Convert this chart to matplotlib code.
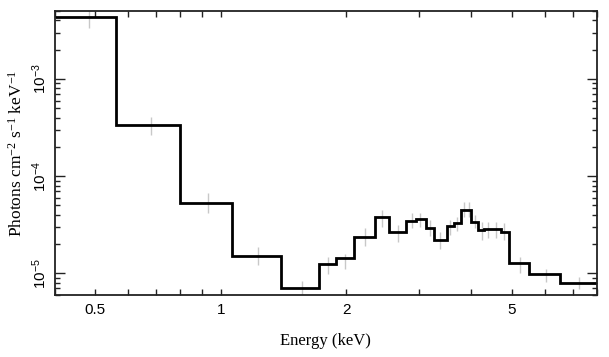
import numpy as np
import matplotlib
matplotlib.use("Agg")
import matplotlib.pyplot as plt
from matplotlib.ticker import FixedLocator, FixedFormatter, LogLocator, NullFormatter

# model: step edges (keV) and levels (photons cm^-2 s^-1 keV^-1)
edges = [0.40, 0.561, 0.797, 1.067, 1.392, 1.725, 1.892, 2.084, 2.344, 2.534,
         2.790, 2.948, 3.105, 3.259, 3.495, 3.640, 3.777, 3.993, 4.142, 4.298,
         4.697, 4.928, 5.507, 6.526, 8.0]
levels = [4.39e-3, 3.33e-4, 5.31e-5, 1.50e-5, 7.0e-6, 1.26e-5, 1.44e-5, 2.39e-5,
          3.80e-5, 2.65e-5, 3.46e-5, 3.59e-5, 2.96e-5, 2.21e-5, 3.10e-5, 3.30e-5,
          4.52e-5, 3.35e-5, 2.80e-5, 2.86e-5, 2.69e-5, 1.29e-5, 9.85e-6, 8.03e-6]

# data: error bar positions and low/high ends
data_x = [0.482, 0.681, 0.930, 1.230, 1.564, 1.813, 1.989, 2.222, 2.446, 2.665,
          2.879, 3.015, 3.186, 3.368, 3.559, 3.694, 3.832, 3.940, 4.089, 4.244,
          4.395, 4.585, 4.782, 5.219, 6.028, 7.24]
data_lo = [3.38e-3, 2.67e-4, 4.21e-5, 1.21e-5, 5.8e-6, 9.8e-6, 1.10e-5, 1.90e-5,
           3.03e-5, 2.13e-5, 2.96e-5, 3.03e-5, 2.40e-5, 1.77e-5, 2.51e-5, 2.70e-5,
           3.84e-5, 3.84e-5, 2.96e-5, 2.23e-5, 2.34e-5, 2.34e-5, 2.23e-5, 1.02e-5,
           8.09e-6, 6.9e-6]
data_hi = [5.6e-3, 4.06e-4, 6.73e-5, 1.85e-5, 8.34e-6, 1.49e-5, 1.57e-5, 2.96e-5,
           4.53e-5, 3.18e-5, 4.22e-5, 4.22e-5, 3.58e-5, 2.64e-5, 3.58e-5, 3.84e-5,
           5.47e-5, 5.47e-5, 4.02e-5, 3.41e-5, 3.41e-5, 3.41e-5, 3.33e-5, 1.49e-5,
           1.10e-5, 9.1e-6]

xticks = [0.5, 1, 2, 5]
xticklabels = ["0.5", "1", "2", "5"]
yticks = [1e-5, 1e-4, 1e-3]
yticklabels = [r"$\mathregular{10^{-5}}$", r"$\mathregular{10^{-4}}$", r"$\mathregular{10^{-3}}$"]

sans = ["Liberation Sans", "DejaVu Sans"]
serif = ["Liberation Serif", "DejaVu Serif"]

fig = plt.figure(figsize=(6.09, 3.57), dpi=100)
ax = fig.add_axes([0.0903, 0.1737, 0.8897, 0.7953])

ax.vlines(data_x, data_lo, data_hi, color="#c8c8c8", lw=1.0, zorder=1)
ax.stairs(levels, edges, baseline=None, color="black", lw=2.0, zorder=2)

ax.set_xscale("log")
ax.set_yscale("log")
ax.set_xlim(0.4, 8.0)
ax.set_ylim(6e-6, 5e-3)

ax.xaxis.set_major_locator(FixedLocator(xticks))
ax.xaxis.set_major_formatter(FixedFormatter(xticklabels))
ax.xaxis.set_minor_locator(LogLocator(base=10, subs=np.arange(2, 10) / 1.0, numticks=20))
ax.xaxis.set_minor_formatter(NullFormatter())
ax.yaxis.set_major_locator(FixedLocator(yticks))
ax.yaxis.set_major_formatter(FixedFormatter(yticklabels))
ax.yaxis.set_minor_locator(LogLocator(base=10, subs=np.arange(2, 10) / 1.0, numticks=20))
ax.yaxis.set_minor_formatter(NullFormatter())

ax.tick_params(which="both", direction="in", top=True, right=True, width=1.0, color="#222222")
ax.tick_params(axis="x", which="major", length=4, pad=6)
ax.tick_params(axis="x", which="minor", length=4)
ax.tick_params(axis="y", which="major", length=7, pad=4)
ax.tick_params(axis="y", which="minor", length=3.5)
ax.tick_params(axis="y", labelrotation=90)
for t in ax.xaxis.get_major_ticks():
    if t.get_loc() == 1:
        t.tick1line.set_markersize(7)
        t.tick2line.set_markersize(7)

for lab in ax.get_xticklabels() + ax.get_yticklabels():
    lab.set_family(sans)
    lab.set_fontsize(11)
for lab in ax.get_yticklabels():
    lab.set_va("center")

for s in ax.spines.values():
    s.set_linewidth(1.3)
    s.set_color("#222222")

ax.set_xlabel("Energy (keV)", family=serif, fontsize=12, labelpad=11)
ax.set_ylabel(r"Photons cm$\mathregular{^{-2}}$ s$\mathregular{^{-1}}$ keV$\mathregular{^{-1}}$",
              family=serif, fontsize=12.5, labelpad=4)

fig.savefig("out.png", dpi=100)
